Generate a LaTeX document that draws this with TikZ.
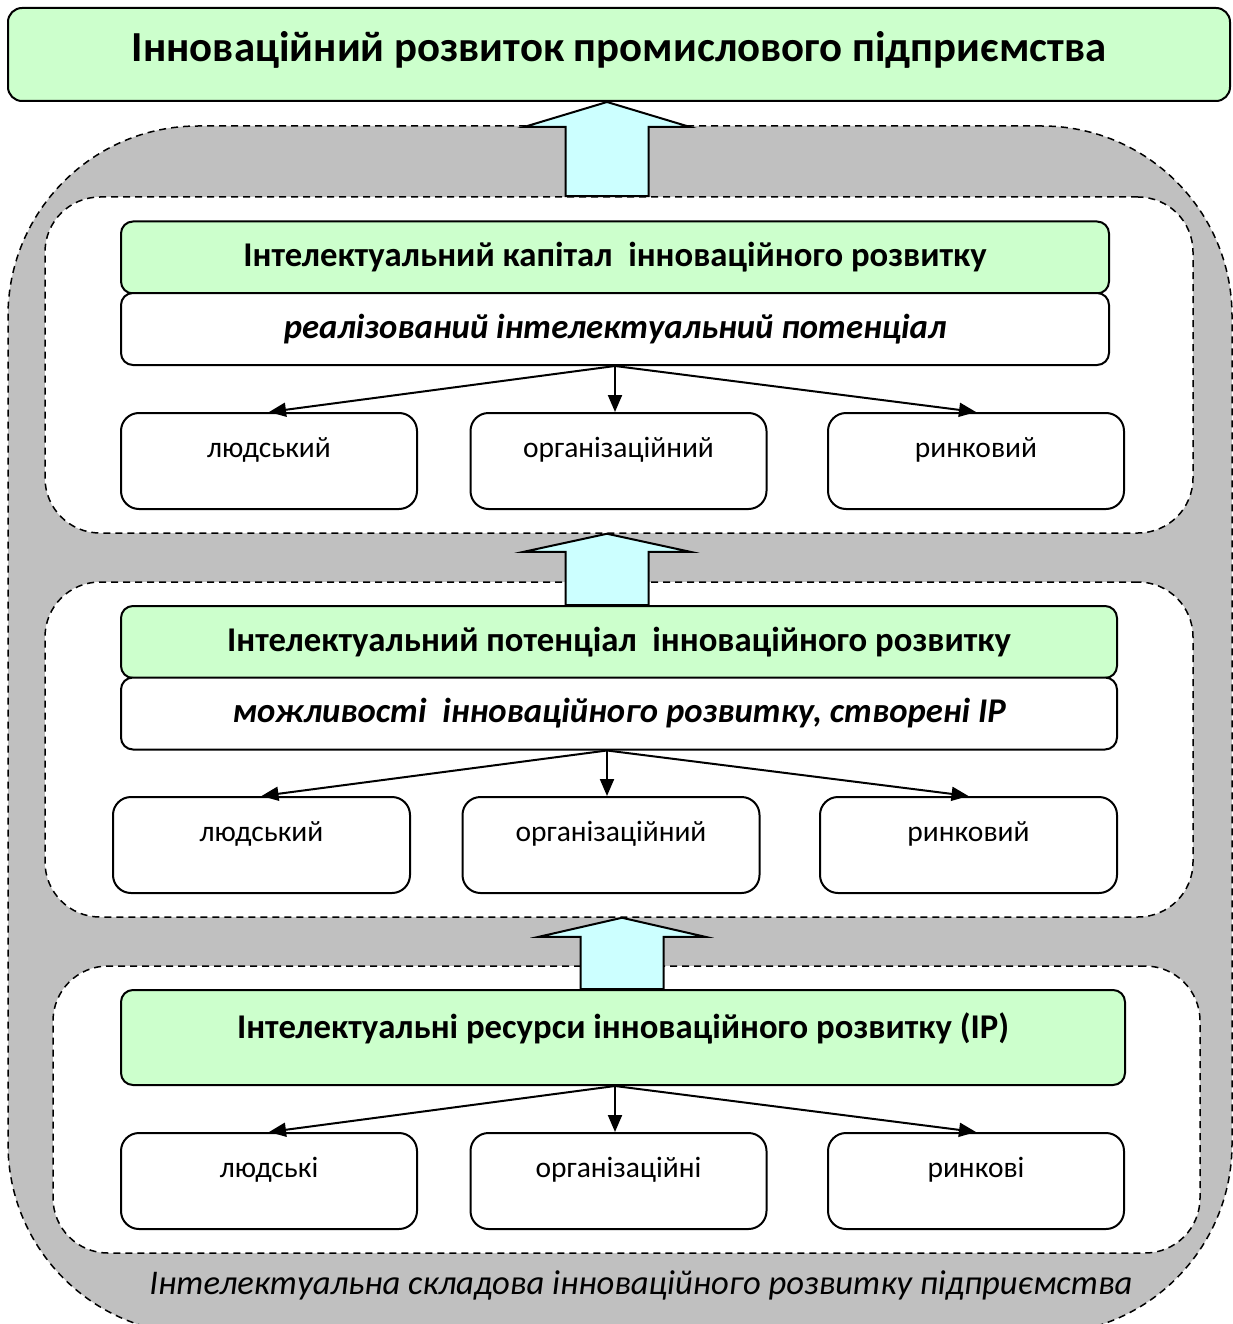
\documentclass[tikz,border=0pt]{standalone}
\usepackage{fontspec}
\setmainfont{Carlito}
\usetikzlibrary{arrows.meta,positioning,calc}
\definecolor{boxgreen}{HTML}{CCFFCC}
\definecolor{arrowcyan}{HTML}{CCFFFF}
\definecolor{bandgray}{HTML}{C0C0C0}
\tikzset{
  headbox/.style={draw=black, fill=boxgreen, line width=2pt, rounded corners=14pt, minimum width=1222pt, minimum height=93pt, inner sep=0pt, font=\fontsize{42.8}{50}\selectfont\bfseries, text height=40pt, text depth=25pt},
  band/.style={draw=black, fill=bandgray, line width=1.5pt, dash pattern=on 7pt off 5pt, rounded corners=190pt, minimum width=1224pt, minimum height=1208pt},
  panel/.style={draw=black, fill=white, line width=1.5pt, dash pattern=on 7pt off 5pt, rounded corners=55pt, minimum width=1148pt, minimum height=336pt},
  greenbox/.style={draw=black, fill=boxgreen, line width=2pt, rounded corners=12pt, minimum height=72pt, inner sep=0pt, font=\fontsize{34.7}{40}\selectfont\bfseries},
  whitebox/.style={draw=black, fill=white, line width=2pt, rounded corners=12pt, minimum height=72pt, inner sep=0pt, font=\fontsize{34.7}{40}\selectfont\bfseries\itshape},
  kindbox/.style={draw=black, fill=white, line width=2pt, rounded corners=18pt, minimum width=296pt, minimum height=96pt, inner sep=0pt, font=\fontsize{29.5}{34}\selectfont, text height=20pt, text depth=28pt},
  arrow/.style={-{Triangle[length=17pt,width=14pt]}, line width=2pt},
  fatarrow/.style={draw=black, fill=arrowcyan, line width=2pt},
  caption/.style={font=\fontsize{34.6}{40}\selectfont\itshape}
}
\newcommand{\blockarrow}[4]{%
  \draw[fatarrow] (#1,0 |- #2) -- ++(83,#4) -- ++(-41.5,0) -- (#1+41.5,0 |- #3)
    -- (#1-41.5,0 |- #3) -- ($(#1-41.5,0 |- #2)+(0,#4)$) -- ++(-41.5,0) -- cycle;}

\begin{document}
\begin{tikzpicture}[x=1pt,y=-1pt]
  \clip (0,0) rectangle (1233,1324);
  \node[band] (band) at (620,730) {};
  \node[panel] (p1) at (619,365) {};
  \node[panel, minimum height=335pt] (p2) at (619,749.5) {};
  \node[panel, minimum width=1147pt, minimum height=287pt] (p3) at (626.5,1109.5) {};

  \node[headbox] (title) at (619,54.5) {Інноваційний розвиток промислового підприємства};

  % capital
  \node[greenbox, minimum width=988pt] (g1) at (615,257.5) {Інтелектуальний капітал\ \ інноваційного розвитку};
  \node[whitebox, minimum width=988pt] (w1) at (615,329) {реалізований інтелектуальний потенціал};
  \node[kindbox] (h1) at (269,461) {людський};
  \node[kindbox] (o1) at (618.5,461) {організаційний};
  \node[kindbox] (m1) at (976,461) {ринковий};
  \coordinate (s1) at (w1.south);
  \draw[arrow] (s1) -- (h1.north);
  \draw[arrow] (s1) -- (s1 |- o1.north);
  \draw[arrow] (s1) -- (m1.north);

  % potential
  \node[greenbox, minimum width=996pt] (g2) at (619,642) {Інтелектуальний потенціал\ \ інноваційного розвитку};
  \node[whitebox, minimum width=996pt] (w2) at (619,713.5) {можливості\ \ інноваційного розвитку, створені ІР};
  \node[kindbox, minimum width=297pt] (h2) at (261.5,845) {людський};
  \node[kindbox, minimum width=297pt] (o2) at (611,845) {організаційний};
  \node[kindbox, minimum width=297pt] (m2) at (968.5,845) {ринковий};
  \coordinate (s2) at (607,0 |- w2.south);
  \draw[arrow] (s2) -- (h2.north);
  \draw[arrow] (s2) -- (s2 |- o2.north);
  \draw[arrow] (s2) -- (m2.north);

  % resources
  \node[greenbox, minimum width=1004pt, minimum height=95pt, text height=24pt, text depth=22pt] (g3) at (623,1037.5) {Інтелектуальні ресурси інноваційного розвитку (ІР)};
  \node[kindbox] (h3) at (269,1181) {людські};
  \node[kindbox] (o3) at (618.5,1181) {організаційні};
  \node[kindbox] (m3) at (976,1181) {ринкові};
  \coordinate (s3) at (615,0 |- g3.south);
  \draw[arrow] (s3) -- (h3.north);
  \draw[arrow] (s3) -- (s3 |- o3.north);
  \draw[arrow] (s3) -- (m3.north);

  \blockarrow{607}{title.south}{p1.north}{25}
  \blockarrow{607}{p1.south}{g2.north}{18}
  \blockarrow{622}{p2.south}{g3.north}{19}

  \node[caption] (cap) at (641,1285) {Інтелектуальна складова інноваційного розвитку підприємства};
\end{tikzpicture}
\end{document}
